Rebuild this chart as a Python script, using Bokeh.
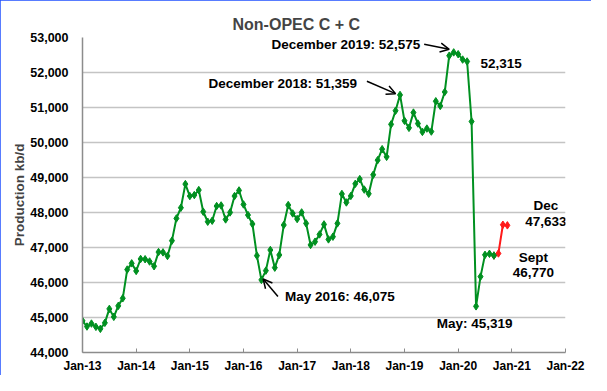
from bokeh.plotting import figure
from bokeh.models import Label, Arrow, OpenHead, FixedTicker, NumeralTickFormatter, Range1d
from bokeh.embed import file_html
from bokeh.resources import INLINE

# ---- data (kb/d), monthly Jan-2013 .. Dec-2020 ----
tick_labels = ["Jan-13", "Jan-14", "Jan-15", "Jan-16", "Jan-17",
               "Jan-18", "Jan-19", "Jan-20", "Jan-21", "Jan-22"]

prod_2013 = [44904, 44742, 44827, 44733, 44676, 44847, 45246, 45018, 45332, 45549, 46370, 46547]
prod_2014 = [46330, 46672, 46665, 46600, 46465, 46870, 46861, 46758, 47195, 47831, 48136, 48812]
prod_2015 = [48470, 48498, 48641, 48022, 47736, 47765, 48184, 48201, 47802, 48002, 48470, 48630]
prod_2016 = [48230, 47927, 47671, 46767, 46075, 46339, 46929, 46424, 46787, 47642, 48213, 47973]
prod_2017 = [47813, 48002, 47689, 47073, 47166, 47374, 47660, 47232, 47309, 47689, 48530, 48287]
prod_2018 = [48474, 48820, 48954, 48655, 48535, 49078, 49496, 49810, 49590, 50518, 50908, 51359]
prod_2019 = [50620, 50418, 50855, 50541, 50303, 50398, 50313, 51179, 51045, 51444, 52480, 52575]
prod_2020_actual = [52523, 52370, 52315, 50600, 45319, 46168, 46790, 46820, 46770]   # Jan..Sep
prod_2020_estimate = [46770, 46830, 47650, 47633]                                    # Sep..Dec

actual = prod_2013 + prod_2014 + prod_2015 + prod_2016 + prod_2017 + prod_2018 + prod_2019 + prod_2020_actual
actual_x = list(range(len(actual)))
est_start = len(actual) - 1
estimate_x = list(range(est_start, est_start + len(prod_2020_estimate)))

FONT = "Liberation Sans"
GREEN = "#009020"
RED = "#FF1A1A"

p = figure(width=591, height=375, output_backend="svg", toolbar_location=None,
           x_range=Range1d(0, 108), y_range=Range1d(44000, 53000),
           min_border_left=82, min_border_right=26, min_border_top=37, min_border_bottom=23,
           background_fill_color="white", border_fill_color="white")

p.styles = {"outline": "3px solid #2050FF", "outline-offset": "-3px"}

p.title.text = "Non-OPEC C + C"
p.title.text_font = FONT
p.title.text_font_size = "16px"
p.title.text_font_style = "bold"
p.title.align = "left"
p.title.offset = 150

p.outline_line_color = None
p.xgrid.grid_line_color = None
p.ygrid.grid_line_color = "#C4C4C4"
p.ygrid.grid_line_width = 1.6

# axes
p.xaxis.ticker = FixedTicker(ticks=[12 * i for i in range(len(tick_labels))])
p.xaxis.major_label_overrides = {12 * i: t for i, t in enumerate(tick_labels)}
p.yaxis.ticker = FixedTicker(ticks=list(range(44000, 53001, 1000)))
p.yaxis.formatter = NumeralTickFormatter(format="0,0")
for ax in (p.xaxis, p.yaxis):
    ax.axis_line_color = "#8C8C8C"
    ax.axis_line_width = 1.5
    ax.major_label_text_font = FONT
    ax.major_label_text_font_style = "bold"
    ax.major_label_text_color = "black"
    ax.minor_tick_line_color = None
p.xaxis.major_label_text_font_size = "12px"
p.yaxis.major_label_text_font_size = "12.5px"
p.xaxis.major_tick_in = 4
p.xaxis.major_tick_out = 0
p.xaxis.major_tick_line_color = "#8C8C8C"
p.xaxis.major_label_standoff = 6
p.yaxis.major_tick_line_color = None
p.yaxis.major_tick_in = 0
p.yaxis.major_tick_out = 0
p.yaxis.major_label_standoff = 14
p.yaxis.axis_label = "Production kb/d"
p.yaxis.axis_label_text_font = FONT
p.yaxis.axis_label_text_font_style = "bold"
p.yaxis.axis_label_text_font_size = "13.5px"
p.yaxis.axis_label_standoff = 0

# series
p.line(estimate_x, prod_2020_estimate, line_color=RED, line_width=2)
p.scatter(estimate_x, prod_2020_estimate, marker="diamond", size=7.5, color=RED)
p.line(actual_x, actual, line_color=GREEN, line_width=2)
p.scatter(actual_x, actual, marker="diamond", size=7.5, color=GREEN)

# annotations
def lab(x, y, text, align="left"):
    p.add_layout(Label(x=x, y=y, text=text, text_align=align, text_baseline="middle",
                       text_font=FONT, text_font_style="bold", text_font_size="13.5px",
                       text_color="black"))

def arr(x0, y0, x1, y1):
    p.add_layout(Arrow(end=OpenHead(size=9, line_width=1.5, line_color="black"),
                       x_start=x0, y_start=y0, x_end=x1, y_end=y1,
                       line_width=1.5, line_color="black"))

lab(75.5, 52800, "December 2019: 52,575", "right")
arr(76.4, 52805, 82.0, 52662)
lab(61.4, 51681, "December 2018: 51,359", "right")
arr(63.6, 51750, 70.0, 51396)
lab(45.3, 45597, "May 2016: 46,075", "left")
arr(43.7, 45597, 40.4, 46100)
lab(89.0, 52252, "52,315", "left")
lab(103.6, 48213, "Dec", "center")
lab(103.6, 47756, "47,633", "center")
lab(100.8, 46718, "Sept", "center")
lab(100.8, 46282, "46,770", "center")
lab(87.7, 44819, "May: 45,319", "center")

open("out.html", "w").write(file_html(p, INLINE))
